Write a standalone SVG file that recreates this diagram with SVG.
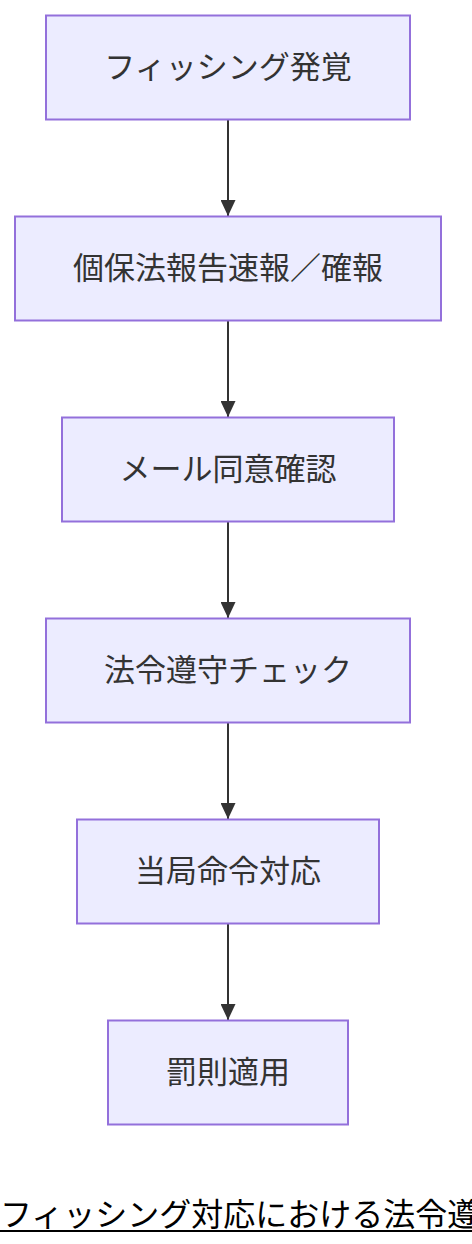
<svg xmlns="http://www.w3.org/2000/svg" width="472" height="1244" viewBox="0 0 472 1244">
<defs>
<marker id="arr" viewBox="0 0 16 15" refX="16" refY="7.5" markerWidth="16" markerHeight="15" markerUnits="userSpaceOnUse" orient="auto">
<path d="M0,0 L16,7.5 L0,15 Z" fill="#333333"/>
</marker>
<style>
.node rect{fill:#ECECFF;stroke:#9370DB;stroke-width:2;}
.node text{font-family:"Noto Sans CJK JP","Noto Sans",sans-serif;font-size:31px;fill:#333333;text-anchor:middle;dominant-baseline:central;}
.edge{stroke:#333333;stroke-width:2;fill:none;marker-end:url(#arr);}
.title{font-family:"Noto Sans CJK JP","Noto Sans",sans-serif;font-size:32px;fill:#000000;}
</style>
</defs>
<rect width="472" height="1244" fill="#FFFFFF"/>
<g id="connectors">
<line class="edge" x1="228" y1="120" x2="228" y2="216"/>
<line class="edge" x1="228" y1="321" x2="228" y2="417"/>
<line class="edge" x1="228" y1="522" x2="228" y2="618"/>
<line class="edge" x1="228" y1="723" x2="228" y2="819"/>
<line class="edge" x1="228" y1="924" x2="228" y2="1020"/>
</g>
<g id="n1" class="node"><rect x="46" y="15.5" width="364" height="104"/><text x="228" y="64">フィッシング発覚</text></g>
<g id="n2" class="node"><rect x="15" y="216.5" width="426" height="104"/><text x="228" y="265">個保法報告速報／確報</text></g>
<g id="n3" class="node"><rect x="62" y="417.5" width="332" height="104"/><text x="228" y="466">メール同意確認</text></g>
<g id="n4" class="node"><rect x="46" y="618.5" width="364" height="104"/><text x="228" y="667">法令遵守チェック</text></g>
<g id="n5" class="node"><rect x="77" y="819.5" width="302" height="104"/><text x="228" y="868">当局命令対応</text></g>
<g id="n6" class="node"><rect x="108" y="1020.5" width="240" height="104"/><text x="228" y="1069">罰則適用</text></g>
<g id="title">
<text class="title" x="0" y="1212" dominant-baseline="central">フィッシング対応における法令遵守</text>
<line x1="0" y1="1231" x2="472" y2="1231" stroke="#000000" stroke-width="2"/>
</g>
</svg>
